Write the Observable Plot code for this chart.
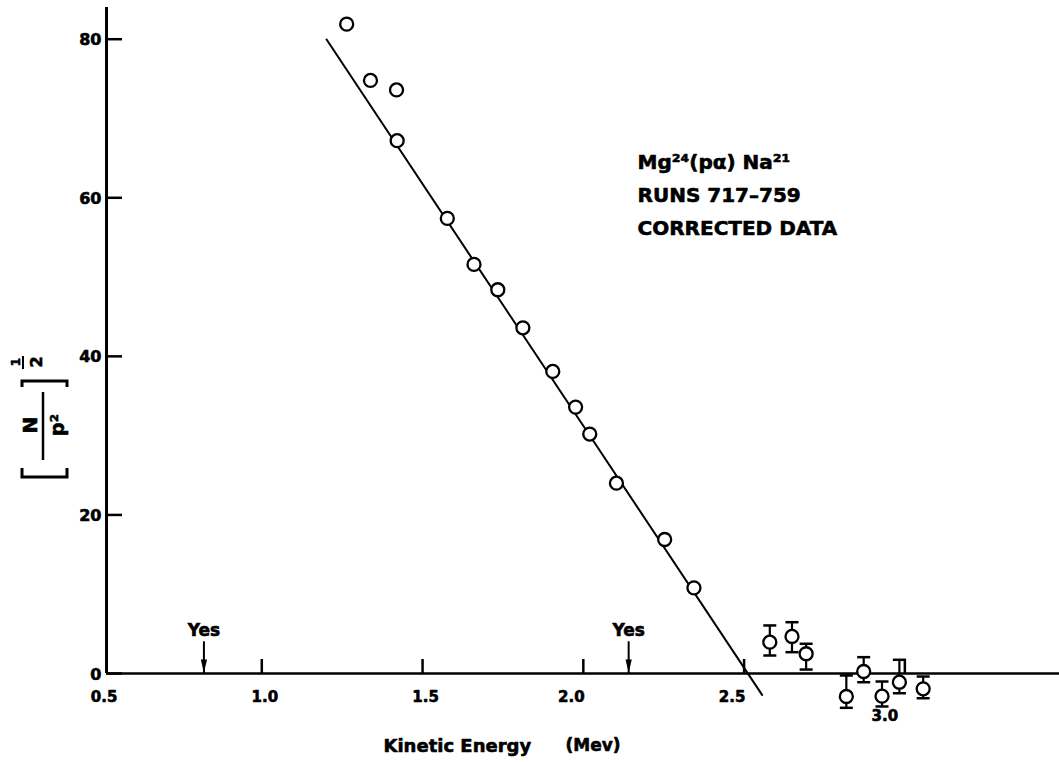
<!DOCTYPE html>
<html><head><meta charset="utf-8">
<script src="https://cdn.jsdelivr.net/npm/d3@7"></script>
<script src="https://cdn.jsdelivr.net/npm/@observablehq/plot@0.6"></script>
<style>html,body{margin:0;padding:0;background:#fff;} #chart svg{display:block;}</style>
</head><body><div id="chart"></div>
<script>
// Main data (Kurie plot points)
const energy = [1.264, 1.338, 1.419, 1.421, 1.577, 1.660, 1.734, 1.812, 1.905, 1.976, 2.020, 2.103, 2.253, 2.344];
const kurie  = [81.9, 74.8, 73.6, 67.2, 57.4, 51.6, 48.4, 43.6, 38.1, 33.6, 30.2, 24.0, 16.9, 10.8];
// Tail points with error bars
const tailEnergy = [2.58, 2.649, 2.693, 2.818, 2.872, 2.929, 2.983, 3.057];
const tailKurie  = [3.95, 4.67, 2.49, -2.90, 0.25, -2.86, -1.10, -1.93];
const tailLow    = [2.27, 2.69, 0.50, -4.33, -1.10, -4.16, -2.49, -3.12];
const tailHigh   = [6.06, 6.47, 3.75, -0.25, 2.06, -1.01, 1.73, -0.38];
// Fitted straight line
const fitEnergy = [1.2015, 2.556];
const fitKurie  = [79.96, -2.69];
// "Yes" markers
const yesEnergy = [0.82, 2.141];
const yesTop = 4;
// Ticks
const xTicks = [1.0, 1.5, 2.0, 2.5, 3.0];
const xLabelsA = [0.5, 1.0, 1.5];
const xLabelsB = [2.0, 2.5];
const xLabelsC = [3.0];
const yTicks = [0, 20, 40, 60, 80];
const xDomain = [0.517, 3.481];
const yDomain = [0, 84];
const annotation = "Mg\u00b2\u2074(p\u03b1) Na\u00b2\u00b9\nRUNS 717\u2013759\nCORRECTED DATA";

const points = energy.map((x, i) => ({x, y: kurie[i]}));
const tail = tailEnergy.map((x, i) => ({x, y: tailKurie[i], lo: tailLow[i], hi: tailHigh[i]}));
const fit = fitEnergy.map((x, i) => ({x, y: fitKurie[i]}));

const capSymbol = {draw(ctx, size) { const r = Math.sqrt(size / Math.PI); ctx.moveTo(-r, 0); ctx.lineTo(r, 0); }};
const headSymbol = {draw(ctx, size) { const r = Math.sqrt(size / Math.PI); ctx.moveTo(0, -1); ctx.lineTo(-r * 0.45, -r * 2); ctx.lineTo(r * 0.45, -r * 2); ctx.closePath(); }};

const ink = {fill: "#000", stroke: "#000", strokeWidth: 0.6};

const plot = Plot.plot({
  width: 1059, height: 762,
  marginLeft: 106, marginRight: 0, marginTop: 7, marginBottom: 89,
  x: {domain: xDomain, axis: null},
  y: {domain: yDomain, axis: null},
  style: {fontFamily: "DejaVu Sans", fontWeight: "bold", background: "#fff", color: "#000"},
  marks: [
    Plot.ruleY([0], {strokeWidth: 2.5}),
    Plot.ruleX([xDomain[0]], {strokeWidth: 3}),
    Plot.axisX({ticks: xTicks, tickSize: -14, fill: "none", strokeWidth: 2.5, label: null}),
    Plot.axisY({ticks: yTicks, tickSize: -16, fill: "none", strokeWidth: 2.5, label: null}),
    Plot.text(yTicks, {y: d => d, frameAnchor: "left", text: d => String(d), textAnchor: "end", dx: -5, dy: 1, fontSize: 16, ...ink}),
    Plot.text(xLabelsA, {x: d => d, frameAnchor: "bottom", text: d => d.toFixed(1), dy: 28, dx: 3, fontSize: 15, ...ink}),
    Plot.text(xLabelsB, {x: d => d, frameAnchor: "bottom", text: d => d.toFixed(1), dy: 28, dx: -12, fontSize: 15, ...ink}),
    Plot.text(xLabelsC, {x: d => d, frameAnchor: "bottom", text: d => d.toFixed(1), dy: 47, dx: -20, fontSize: 15, ...ink}),
    Plot.text(["Kinetic Energy"], {frameAnchor: "bottom-left", text: d => d, textAnchor: "start", lineAnchor: "middle", dx: 277, dy: 72.5, fontSize: 18, ...ink}),
    Plot.text(["(Mev)"], {frameAnchor: "bottom-left", text: d => d, textAnchor: "start", lineAnchor: "middle", dx: 459, dy: 72.5, fontSize: 17, ...ink}),
    // fit line
    Plot.line(fit, {x: "x", y: "y", strokeWidth: 2}),
    // Yes arrows
    Plot.ruleX(yesEnergy, {x: d => d, y1: 0, y2: yesTop, strokeWidth: 2}),
    Plot.dot(yesEnergy, {x: d => d, y: 0, symbol: headSymbol, r: 7, fill: "#000", stroke: "none"}),
    Plot.text(yesEnergy, {x: d => d, y: yesTop, text: () => "Yes", lineAnchor: "middle", dy: -11, fontSize: 17, ...ink}),
    // error bars
    Plot.ruleX(tail, {x: "x", y1: "lo", y2: "hi", strokeWidth: 2.2}),
    Plot.dot(tail, {x: "x", y: "lo", symbol: capSymbol, r: 6.5, stroke: "#000", strokeWidth: 2.5}),
    Plot.dot(tail, {x: "x", y: "hi", symbol: capSymbol, r: 6.5, stroke: "#000", strokeWidth: 2.5}),
    Plot.dot(tail, {x: "x", y: "y", r: 6.5, fill: "#fff", stroke: "#000", strokeWidth: 2.3}),
    // main points
    Plot.dot(points, {x: "x", y: "y", r: 6.5, fill: "#fff", stroke: "#000", strokeWidth: 2.3}),
    // annotation
    Plot.text([annotation], {x: 2.1685, y: 66.6, text: d => d, textAnchor: "start", lineAnchor: "top", lineHeight: 1.65, fontSize: 20, ...ink})
  ]
});
document.getElementById("chart").appendChild(plot);

// Rotated y-axis label: [ N / p² ]^(1/2)
const svg = d3.select(plot);
const g = svg.append("g").attr("transform", "translate(43,425) rotate(-90)")
  .attr("font-family", "DejaVu Sans").attr("font-weight", "bold").attr("fill", "#000")
  .attr("stroke", "#000").attr("stroke-width", 0.6);
g.append("path").attr("d", "M-43,-21L-52,-21L-52,24L-43,24").attr("fill", "none").attr("stroke-width", 3);
g.append("path").attr("d", "M38,-21L44,-21L44,24L38,24").attr("fill", "none").attr("stroke-width", 3);
g.append("line").attr("x1", -35).attr("x2", 33).attr("y1", 0).attr("y2", 0).attr("stroke-width", 2.5);
g.append("text").attr("x", 0).attr("y", -6).attr("text-anchor", "middle").attr("font-size", 20).text("N");
g.append("text").attr("x", 0).attr("y", 21).attr("text-anchor", "middle").attr("font-size", 19).text("p\u00b2");
g.append("text").attr("x", 63).attr("y", -23).attr("text-anchor", "middle").attr("font-size", 12).text("1");
g.append("line").attr("x1", 56).attr("x2", 69).attr("y1", -20).attr("y2", -20).attr("stroke-width", 2);
g.append("text").attr("x", 63).attr("y", -1).attr("text-anchor", "middle").attr("font-size", 16).text("2");
</script>
</body></html>
